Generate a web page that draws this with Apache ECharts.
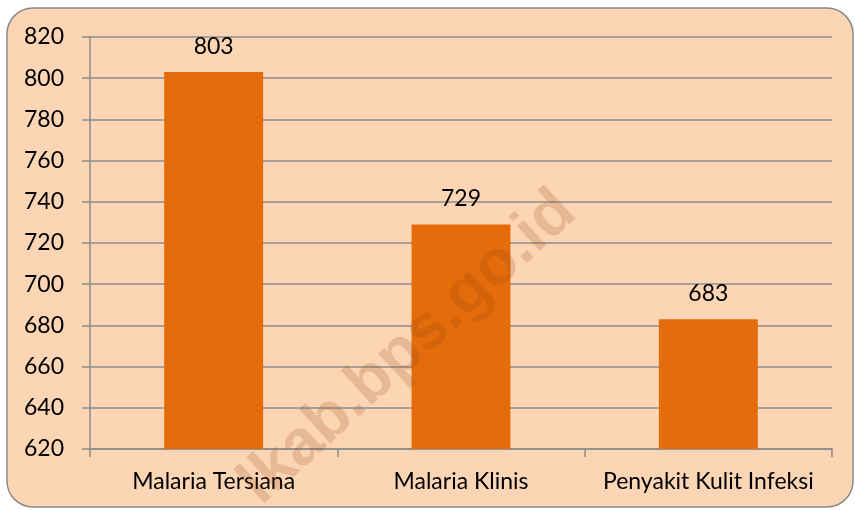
<!DOCTYPE html>
<html>
<head>
<meta charset="utf-8">
<script src="https://cdn.jsdelivr.net/npm/echarts@6/dist/echarts.min.js"></script>
<style>
  html, body { margin: 0; padding: 0; background: #fff; }
  #chart { width: 855px; height: 510px; }
</style>
</head>
<body>
<div id="chart"></div>
<script>
var categories = ['Malaria Tersiana', 'Malaria Klinis', 'Penyakit Kulit Infeksi']
var cases = [803, 729, 683]
var yMin = 620
var yMax = 820
var yStep = 20

var chart = echarts.init(document.getElementById('chart'))
var gridColor = '#8c8c8c'
var font = 'Lato, "Open Sans", sans-serif'

chart.setOption({
  animation: false,
  textStyle: { fontFamily: font },
  graphic: [
    {
      type: 'rect',
      z: -10,
      shape: { x: 7, y: 8, width: 846, height: 499, r: 26 },
      style: { fill: '#fcd5b5', stroke: '#8a8a8a', lineWidth: 1.5 }
    },
    {
      // faint watermark across the plot
      type: 'text',
      z: 100,
      x: 408,
      y: 348,
      rotation: Math.PI * 42.5 / 180,
      style: {
        text: 'lkab.bps.go.id',
        fill: 'rgba(150, 70, 20, 0.2)',
        font: 'bold 64px Arial, "Liberation Sans", sans-serif',
        align: 'center',
        verticalAlign: 'middle'
      }
    }
  ],
  grid: {
    left: 90,
    right: 23,
    top: 37,
    bottom: 61,
    containLabel: false
  },
  xAxis: {
    type: 'category',
    data: categories,
    axisLine: { show: true, lineStyle: { color: gridColor, width: 1.5 } },
    axisTick: { show: true, length: 8, alignWithLabel: false, interval: 0, lineStyle: { color: gridColor, width: 1.5 } },
    axisLabel: { color: '#000', fontSize: 23, margin: 21, interval: 0, hideOverlap: false, fontFamily: font }
  },
  yAxis: {
    type: 'value',
    min: yMin,
    max: yMax,
    interval: yStep,
    axisLine: { show: true, lineStyle: { color: gridColor, width: 1.5 } },
    axisTick: { show: true, length: 8, lineStyle: { color: gridColor, width: 1.5 } },
    axisLabel: { color: '#000', fontSize: 23, margin: 26, fontFamily: font },
    splitLine: { show: true, lineStyle: { color: gridColor, width: 1.5 } }
  },
  series: [{
    type: 'bar',
    data: cases,
    barWidth: '40%',
    itemStyle: { color: '#e46c0a' },
    label: {
      show: true,
      position: 'top',
      distance: 14,
      color: '#000',
      fontSize: 23,
      fontFamily: font
    }
  }]
})
</script>
</body>
</html>
